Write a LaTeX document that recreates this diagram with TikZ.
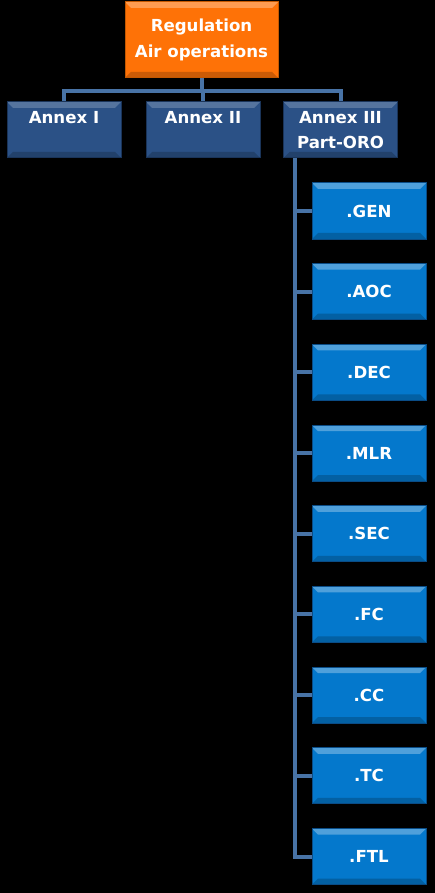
\documentclass[tikz,border=0pt]{standalone}
\usepackage{fontspec}
\setmainfont{DejaVu Sans}
\usetikzlibrary{calc}
\definecolor{regorange}{HTML}{FE7207}
\definecolor{regedge}{HTML}{C45800}
\definecolor{annexblue}{HTML}{2B5186}
\definecolor{annexedge}{HTML}{1A3459}
\definecolor{partblue}{HTML}{0478CC}
\definecolor{partedge}{HTML}{0A4C86}
\definecolor{connblue}{HTML}{4873A6}
\tikzset{
  bevel/.style 2 args={path picture={
    \fill[#1] (path picture bounding box.north west) -- (path picture bounding box.north east)
      -- ([xshift=-6pt,yshift=-6pt]path picture bounding box.north east)
      -- ([xshift=6pt,yshift=-6pt]path picture bounding box.north west) -- cycle;
    \fill[#2] (path picture bounding box.south west) -- (path picture bounding box.south east)
      -- ([xshift=-6pt,yshift=6pt]path picture bounding box.south east)
      -- ([xshift=6pt,yshift=6pt]path picture bounding box.south west) -- cycle;
  }},
  box/.style={draw, line width=1pt, text=white, align=center, inner sep=0pt,
    font=\fontsize{16.6}{25.5}\selectfont\bfseries},
  regbox/.style={box, fill=regorange, draw=regedge, minimum width=153pt, minimum height=76pt,
    bevel={regorange!70!white}{regorange!80!black}},
  annexbox/.style={box, fill=annexblue, draw=annexedge, minimum width=114pt, minimum height=56pt,
    bevel={annexblue!80!white}{annexblue!80!black}},
  partbox/.style={box, fill=partblue, draw=partedge, minimum width=114pt, minimum height=56pt,
    bevel={partblue!70!white}{partblue!80!black}},
  conn/.style={draw=connblue, line width=4pt},
}
\begin{document}
\begin{tikzpicture}[x=1pt, y=-1pt]
    \fill[black] (0,0) rectangle (435,893);
    % top level
    \node[regbox] (reg) at (201.5,40) {Regulation\\Air operations};
    \node[annexbox] (annexI) at (64,130) {Annex I\\\mbox{}};
    \node[annexbox] (annexII) at (203,130) {Annex II\\\mbox{}};
    \node[annexbox] (annexIII) at (340.5,130) {Annex III\\Part-ORO};
    \coordinate (bar) at ($(reg.south)+(0,13)$);
    \draw[conn] (bar) -| (annexI.north); \draw[conn] (bar) -| (annexIII.north);
    \draw[conn] (reg.south) -- (bar) -- (bar -| annexII.north) -- (annexII.north);
    % Part-ORO subparts
    \coordinate (trunk) at ($(annexIII.south west)+(12,0)$);
    \foreach \sub [count=\i from 0] in {GEN,AOC,DEC,MLR,SEC,FC,CC,TC,FTL} {
        \node[partbox] (\sub) at (369,{211+80.69*\i}) {.\sub};
        \draw[conn] (trunk |- \sub.west) -- (\sub.west);
    }
    \draw[conn] (trunk) |- (FTL.west);
\end{tikzpicture}
\end{document}
